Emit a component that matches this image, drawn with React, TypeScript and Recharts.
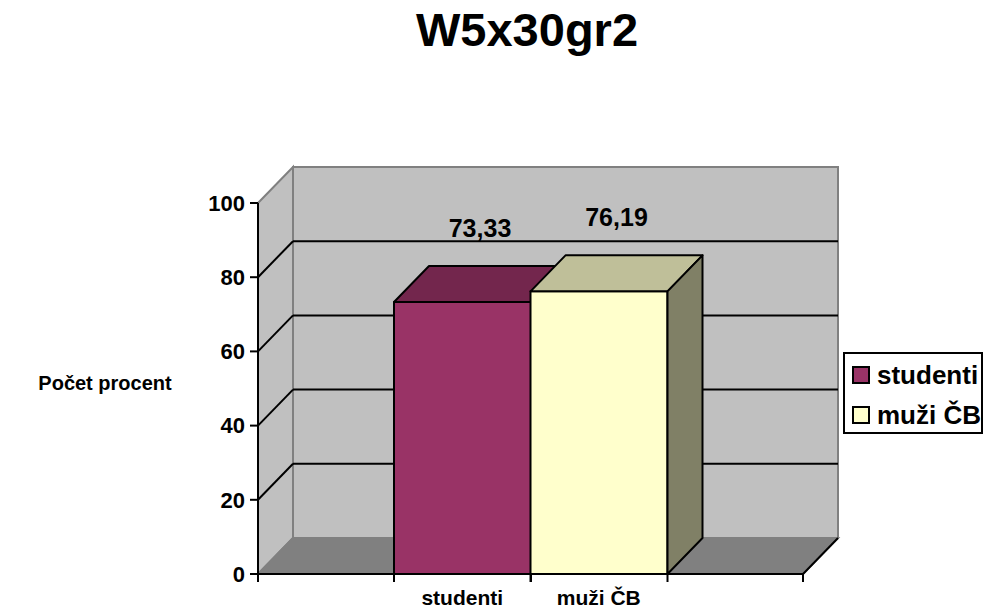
import React from "react";
import { Bar, BarChart, CartesianGrid, LabelList, XAxis, YAxis } from "recharts";

const title = "W5x30gr2";
const yAxisTitle = "Počet procent";
const categories = ["studenti", "muži ČB"];
const values = [73.33, 76.19];
const yTicks = [0, 20, 40, 60, 80, 100];

// front / top / side faces of each box
const frontColors = ["#993366", "#FFFFCC"];
const topColors = ["#73264D", "#BFBF99"];
const sideColors = ["#4D1A33", "#808066"];

const W = 985;
const H = 610;
const DX = 35; // depth of the 3d walls, px
const DY = 36;
const FONT = '"Liberation Sans", Arial, sans-serif';

const data = categories.map((c, i) => ({ name: c, value: values[i] }));

const fmt = (v: number) => v.toFixed(2).replace(".", ",");

// walls, floor and gridlines drawn behind the bars
function WallLine(props: any) {
  const { x1, x2, y1, index, y, height } = props;
  const top = y;
  const bottom = y + height;
  const left = x1;
  const right = x2;
  const isEdge = Math.abs(y1 - top) < 0.5 || Math.abs(y1 - bottom) < 0.5;
  return (
    <g key={`wall-${index}`}>
      {index === 0 && (
        <g>
          <rect
            x={left + DX}
            y={top - DY}
            width={right - left}
            height={bottom - top}
            fill="#C0C0C0"
            stroke="#808080"
            strokeWidth={2}
          />
          <polygon
            points={`${left},${top} ${left + DX},${top - DY} ${left + DX},${bottom - DY} ${left},${bottom}`}
            fill="#C0C0C0"
            stroke="#808080"
            strokeWidth={2}
          />
          <polygon
            points={`${left},${bottom} ${left + DX},${bottom - DY} ${right + DX},${bottom - DY} ${right},${bottom}`}
            fill="#808080"
            stroke="#808080"
            strokeWidth={2}
          />
          <line x1={right} y1={bottom} x2={right + DX} y2={bottom - DY} stroke="#000" strokeWidth={2} />
        </g>
      )}
      {!isEdge && (
        <g>
          <line x1={left} y1={y1} x2={left + DX} y2={y1 - DY} stroke="#000" strokeWidth={2} />
          <line x1={left + DX} y1={y1 - DY} x2={right + DX} y2={y1 - DY} stroke="#000" strokeWidth={2} />
        </g>
      )}
      {Math.abs(y1 - bottom) < 0.5 && (
        <g stroke="#000" strokeWidth={2}>
          <line x1={left} y1={bottom} x2={left} y2={bottom + 8} />
          <line x1={right} y1={bottom} x2={right} y2={bottom + 8} />
        </g>
      )}
    </g>
  );
}

function Box(props: any) {
  const { x, y, width, height, index } = props;
  const r = x + width;
  const b = y + height;
  return (
    <g stroke="#000" strokeWidth={2} strokeLinejoin="round">
      <rect x={x} y={y} width={width} height={height} fill={frontColors[index]} />
      <polygon
        points={`${x},${y} ${x + DX},${y - DY} ${r + DX},${y - DY} ${r},${y}`}
        fill={topColors[index]}
      />
      <polygon
        points={`${r},${y} ${r + DX},${y - DY} ${r + DX},${b - DY} ${r},${b}`}
        fill={sideColors[index]}
      />
      <line x1={x} y1={b} x2={x} y2={b + 8} />
      <line x1={r} y1={b} x2={r} y2={b + 8} />
    </g>
  );
}

function ValueLabel(props: any) {
  const { x, y, width, value } = props;
  return (
    <text
      x={x + width / 2 + DX / 2}
      y={y - DY - 29}
      textAnchor="middle"
      fontFamily={FONT}
      fontWeight="bold"
      fontSize={25}
      fill="#000"
    >
      {fmt(value)}
    </text>
  );
}

export default function App() {
  return (
    <div style={{ position: "absolute", left: 0, top: 0, width: W, height: H, background: "#fff", fontFamily: FONT }}>
      <div
        style={{
          position: "absolute",
          left: 527,
          top: 53,
          transform: "translate(-50%, -100%)",
          fontSize: 47,
          fontWeight: "bold",
          lineHeight: 1,
          whiteSpace: "nowrap",
        }}
      >
        {title}
      </div>
      <div
        style={{
          position: "absolute",
          left: 105,
          top: 389,
          transform: "translate(-50%, -80%)",
          fontSize: 20,
          fontWeight: "bold",
          lineHeight: 1,
          whiteSpace: "nowrap",
        }}
      >
        {yAxisTitle}
      </div>
      <BarChart
        width={W}
        height={H}
        data={data}
        margin={{ top: 203, right: 182, bottom: 0, left: 0 }}
        barCategoryGap={0}
        style={{ position: "absolute", left: 0, top: 0 }}
      >
        <CartesianGrid vertical={false} horizontal={(p: any) => <WallLine {...p} />} />
        <XAxis
          dataKey="name"
          height={36}
          padding={{ left: 136, right: 136 }}
          axisLine={{ stroke: "#000", strokeWidth: 2 }}
          tickLine={false}
          tickMargin={10}
          tick={{ fontSize: 21, fontWeight: "bold", fill: "#000", fontFamily: FONT }}
        />
        <YAxis
          domain={[0, 100]}
          ticks={yTicks}
          width={258}
          interval={0}
          axisLine={{ stroke: "#000", strokeWidth: 2 }}
          tickLine={{ stroke: "#000", strokeWidth: 2 }}
          tickSize={8}
          tickMargin={5}
          tick={{ fontSize: 22, fontWeight: "bold", fill: "#000", fontFamily: FONT }}
        />
        <Bar dataKey="value" shape={(p: any) => <Box {...p} />} isAnimationActive={false}>
          <LabelList dataKey="value" content={(p: any) => <ValueLabel {...p} />} />
        </Bar>
      </BarChart>
      <div
        style={{
          position: "absolute",
          left: 843,
          top: 352,
          width: 136,
          height: 78,
          border: "2px solid #000",
          background: "#fff",
          boxSizing: "content-box",
        }}
      >
        {categories.map((c, i) => (
          <div
            key={c}
            style={{
              position: "absolute",
              left: 7,
              top: 8 + i * 40,
              display: "flex",
              alignItems: "center",
              fontSize: 26,
              fontWeight: "bold",
              lineHeight: "26px",
              whiteSpace: "nowrap",
            }}
          >
            <span
              style={{
                display: "inline-block",
                width: 14,
                height: 14,
                border: "2px solid #000",
                background: frontColors[i],
                marginRight: 7,
              }}
            />
            {c}
          </div>
        ))}
      </div>
    </div>
  );
}
